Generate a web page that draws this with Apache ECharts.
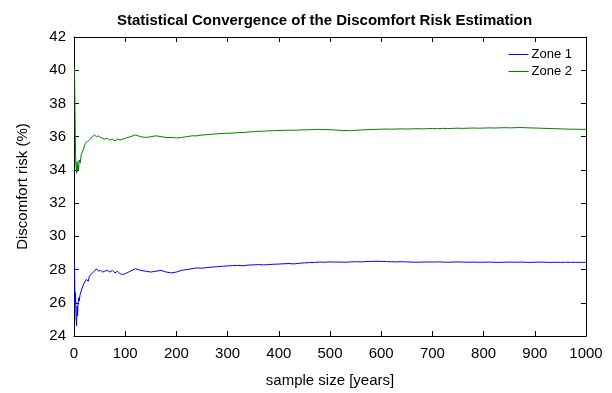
<!DOCTYPE html>
<html>
<head>
<meta charset="utf-8">
<script src="https://cdn.jsdelivr.net/npm/echarts@6/dist/echarts.min.js"></script>
<style>
  html, body { margin: 0; padding: 0; background: #fff; }
  #chart { width: 612px; height: 393px; }
</style>
</head>
<body>
<div id="chart"></div>
<script>
// Sample sizes (years) at which the running estimate is recorded
const sampleSizes = [
  1, 2, 3, 4, 5, 6, 7, 8, 9, 10, 12, 14, 16, 18, 20, 22, 24, 26, 28, 30,
  33, 36, 40, 44, 48, 52, 56, 60, 65, 70, 75, 80, 85, 90, 95,
  100, 110, 120, 130, 140, 150, 160, 170, 180, 190,
  200, 210, 220, 230, 240, 250, 260, 270, 280, 290,
  300, 310, 320, 330, 340, 350, 360, 370, 380, 390,
  400, 410, 420, 430, 440, 450, 460, 470, 480, 490,
  500, 510, 520, 530, 540, 550, 560, 570, 580, 590,
  600, 610, 620, 630, 640, 650, 660, 670, 680, 690,
  700, 710, 720, 730, 740, 750, 760, 770, 780, 790,
  800, 810, 820, 830, 840, 850, 860, 870, 880, 890,
  900, 910, 920, 930, 940, 950, 960, 970, 980, 990, 1000
];

// Running discomfort-risk estimate, Zone 1 (%)
const zone1 = [
  28.4, 25.9, 26.6, 25.0, 24.6, 25.8, 25.2, 26.0, 26.3, 26.1, 26.5, 26.4, 26.9, 27.0, 27.2, 27.1, 27.4, 27.5, 27.3, 27.6,
  27.5, 27.8, 27.9, 28.05, 27.9, 27.95, 27.85, 27.9, 27.95, 27.85, 27.95, 27.8, 27.9, 27.75, 27.7,
  27.75, 27.9, 28.05, 27.95, 27.9, 27.85, 27.9, 27.95, 27.85, 27.8,
  27.85, 27.95, 28.0, 28.05, 28.1, 28.08, 28.12, 28.15, 28.17, 28.2,
  28.22, 28.24, 28.25, 28.23, 28.27, 28.28, 28.3, 28.28, 28.3, 28.32,
  28.33, 28.35, 28.36, 28.34, 28.38, 28.4, 28.42, 28.43, 28.45, 28.44,
  28.46, 28.45, 28.45, 28.44, 28.46, 28.47, 28.46, 28.48, 28.49, 28.5,
  28.49, 28.48, 28.47, 28.46, 28.47, 28.46, 28.45, 28.44, 28.45, 28.46,
  28.45, 28.46, 28.45, 28.44, 28.45, 28.46, 28.45, 28.44, 28.45, 28.44,
  28.44, 28.45, 28.44, 28.43, 28.44, 28.45, 28.44, 28.45, 28.44, 28.43,
  28.44, 28.45, 28.44, 28.43, 28.44, 28.43, 28.44, 28.43, 28.44, 28.43, 28.44
];

// Running discomfort-risk estimate, Zone 2 (%)
const zone2 = [
  40.2, 37.5, 35.0, 34.2, 33.8, 34.5, 33.9, 34.3, 34.0, 34.6, 34.4, 34.9, 34.8, 35.2, 35.3, 35.6, 35.5, 35.7, 35.6, 35.8,
  35.7, 36.0, 36.1, 36.0, 36.05, 35.95, 35.9, 35.85, 35.9, 35.8, 35.85, 35.75, 35.85, 35.8, 35.85,
  35.9, 36.0, 36.1, 36.0, 35.95, 36.0, 36.05, 36.0, 35.95, 35.95,
  35.92, 35.95, 36.0, 36.05, 36.05, 36.1, 36.12, 36.15, 36.17, 36.2,
  36.2, 36.22, 36.24, 36.25, 36.28, 36.3, 36.32, 36.33, 36.35, 36.36,
  36.37, 36.38, 36.39, 36.38, 36.4, 36.41, 36.42, 36.43, 36.44, 36.43,
  36.42, 36.4, 36.38, 36.37, 36.36, 36.38, 36.4, 36.42, 36.43, 36.44,
  36.45, 36.46, 36.45, 36.46, 36.47, 36.46, 36.47, 36.48, 36.47, 36.48,
  36.49, 36.48, 36.5, 36.49, 36.5, 36.51, 36.5, 36.51, 36.52, 36.51,
  36.52, 36.53, 36.52, 36.53, 36.54, 36.53, 36.54, 36.55, 36.54, 36.53,
  36.52, 36.51, 36.5, 36.49, 36.48, 36.47, 36.46, 36.45, 36.45, 36.44, 36.44
];

const xTicks = [0, 100, 200, 300, 400, 500, 600, 700, 800, 900, 1000];
const yTicks = [24, 26, 28, 30, 32, 34, 36, 38, 40, 42];

const font = 'Liberation Sans, Arial, sans-serif';
const pairs = (ys) => sampleSizes.map((x, i) => [x, ys[i]]);

const chart = echarts.init(document.getElementById('chart'));

const axisCommon = {
  axisLine: { show: true, onZero: false, lineStyle: { color: '#000', width: 1 } },
  axisTick: { show: true, inside: true, length: 5, lineStyle: { color: '#000' } },
  splitLine: { show: false }
};

chart.setOption({
  animation: false,
  backgroundColor: '#fff',
  title: {
    text: 'Statistical Convergence of the Discomfort Risk Estimation',
    left: 112, top: 8,
    textStyle: { fontFamily: font, fontSize: 15, fontWeight: 'bold', color: '#000' }
  },
  legend: {
    right: 35, top: 43, orient: 'vertical', itemGap: 4,
    itemWidth: 20, itemHeight: 1,
    textStyle: { fontFamily: font, fontSize: 13, color: '#000', padding: [0, 0, 0, -2] },
    data: [
      { name: 'Zone 1', icon: 'rect' },
      { name: 'Zone 2', icon: 'rect' }
    ]
  },
  grid: { left: 74, right: 26, top: 37, bottom: 57 },
  xAxis: [
    Object.assign({
      type: 'value', min: 0, max: 1000, interval: 100, position: 'bottom',
      name: 'sample size [years]', nameLocation: 'middle', nameGap: 37,
      nameTextStyle: { fontFamily: font, fontSize: 15, color: '#000' },
      axisLabel: { fontFamily: font, fontSize: 15, color: '#000', margin: 10,
        formatter: (v) => xTicks.includes(v) ? String(v) : '' }
    }, axisCommon),
    Object.assign({
      type: 'value', min: 0, max: 1000, interval: 100, position: 'top',
      axisLabel: { show: false }
    }, axisCommon)
  ],
  yAxis: [
    Object.assign({
      type: 'value', min: 24, max: 42, interval: 2, position: 'left',
      name: 'Discomfort risk (%)', nameLocation: 'middle', nameGap: 44,
      nameTextStyle: { fontFamily: font, fontSize: 15, color: '#000' },
      axisLabel: { fontFamily: font, fontSize: 15, color: '#000', margin: 8,
        formatter: (v) => yTicks.includes(v) ? String(v) : '' }
    }, axisCommon),
    Object.assign({
      type: 'value', min: 24, max: 42, interval: 2, position: 'right',
      axisLabel: { show: false }
    }, axisCommon)
  ],
  series: [
    {
      name: 'Zone 1', type: 'line', symbol: 'none', data: pairs(zone1),
      lineStyle: { color: '#0000ff', width: 1 }, itemStyle: { color: '#0000ff' }
    },
    {
      name: 'Zone 2', type: 'line', symbol: 'none', data: pairs(zone2),
      lineStyle: { color: '#008000', width: 1 }, itemStyle: { color: '#008000' }
    }
  ]
});
</script>
</body>
</html>
